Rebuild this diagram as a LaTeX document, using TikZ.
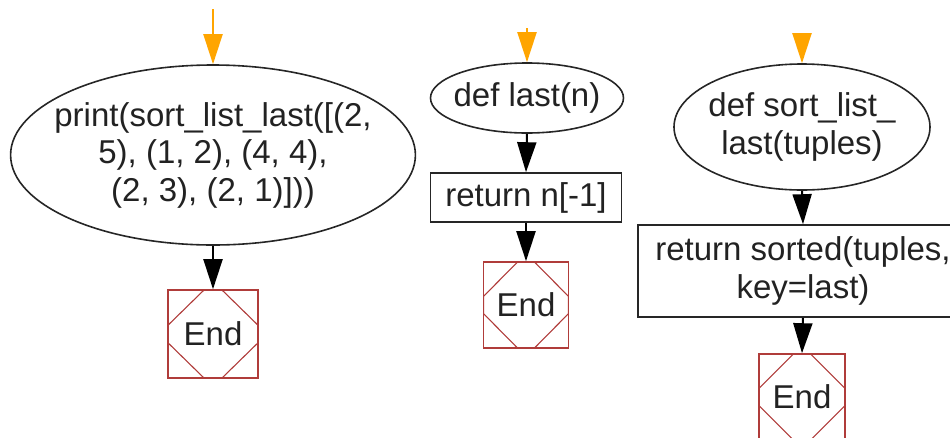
\documentclass[tikz,border=0pt]{standalone}
\usepackage{fontspec}
\setmainfont{Liberation Sans}
\usetikzlibrary{calc,shapes.geometric,arrows.meta}
\definecolor{endred}{RGB}{176,60,58}
\definecolor{arrorange}{RGB}{255,165,0}
\definecolor{txt}{RGB}{34,34,34}
\begin{document}
\begin{tikzpicture}[x=1pt,y=-1pt,
  every node/.style={font=\fontsize{33}{37.5}\selectfont, text=txt, align=center, inner sep=0pt},
  startshape/.style={ellipse, draw=black!85, line width=1.6pt},
  procbox/.style={rectangle, draw=black!85, line width=1.6pt},
  endbox/.style={rectangle, draw=endred, line width=1.6pt,
    path picture={
      \draw[endred, line width=1.1pt]
        ($(path picture bounding box.north west)!.4!(path picture bounding box.north east)$) --
        ($(path picture bounding box.north west)!.4!(path picture bounding box.south west)$) --
        ($(path picture bounding box.north west)!.6!(path picture bounding box.south west)$) --
        ($(path picture bounding box.south west)!.4!(path picture bounding box.south east)$) --
        ($(path picture bounding box.south west)!.6!(path picture bounding box.south east)$) --
        ($(path picture bounding box.north east)!.6!(path picture bounding box.south east)$) --
        ($(path picture bounding box.north east)!.4!(path picture bounding box.south east)$) --
        ($(path picture bounding box.north west)!.6!(path picture bounding box.north east)$) -- cycle;
    }},
  inarrow/.style={draw=arrorange, line width=2pt, -{Triangle[length=30pt,width=19pt]}, arrorange},
  flowarrow/.style={draw=black, line width=2pt, -{Triangle[length=30pt,width=19pt]}, black}
]
\useasboundingbox (0,0) rectangle (950,437);
\clip (0,0) rectangle (950,437);

% column 1
\coordinate (s1) at (213,9);
\node[startshape, inner xsep=-15.5pt, minimum width=404pt, minimum height=180pt] (e1) at (213,155)
  {print(sort\_list\_last([(2,\\5), (1, 2), (4, 4),\\(2, 3), (2, 1)]))};
\node[endbox, minimum width=90pt, minimum height=88pt] (end1) at (213,334) {End};
\draw[inarrow] (s1) -- (e1.north);
\draw[flowarrow] (e1.south) -- (end1.north);

% column 2
\coordinate (s2) at (527,28);
\node[startshape, inner xsep=-6pt, minimum width=193pt, minimum height=70pt] (e2) at (527,98) {def last(n)};
\node[procbox, minimum width=191pt, minimum height=49pt] (b2) at (526,197.5) {return n[-1]};
\node[endbox, minimum width=85pt, minimum height=86pt] (end2) at (526,305) {End};
\draw[inarrow] (s2) -- (e2.north);
\draw[flowarrow] (e2.south) -- (b2.north);
\draw[flowarrow] (b2.south) -- (end2.north);

% column 3
\coordinate (s3) at (802,33);
\node[startshape, inner xsep=-3.5pt, minimum width=256pt, minimum height=126pt] (e3) at (802,127)
  {def sort\_list\_\\last(tuples)};
\node[procbox, minimum width=330pt, minimum height=92pt] (b3) at (803,271)
  {return sorted(tuples,\\key=last)};
\node[endbox, minimum width=86pt, minimum height=86pt] (end3) at (802,397) {End};
\draw[inarrow] (s3) -- (e3.north);
\draw[flowarrow] (e3.south) -- (b3.north);
\draw[flowarrow] (b3.south) -- (end3.north);
\end{tikzpicture}
\end{document}
